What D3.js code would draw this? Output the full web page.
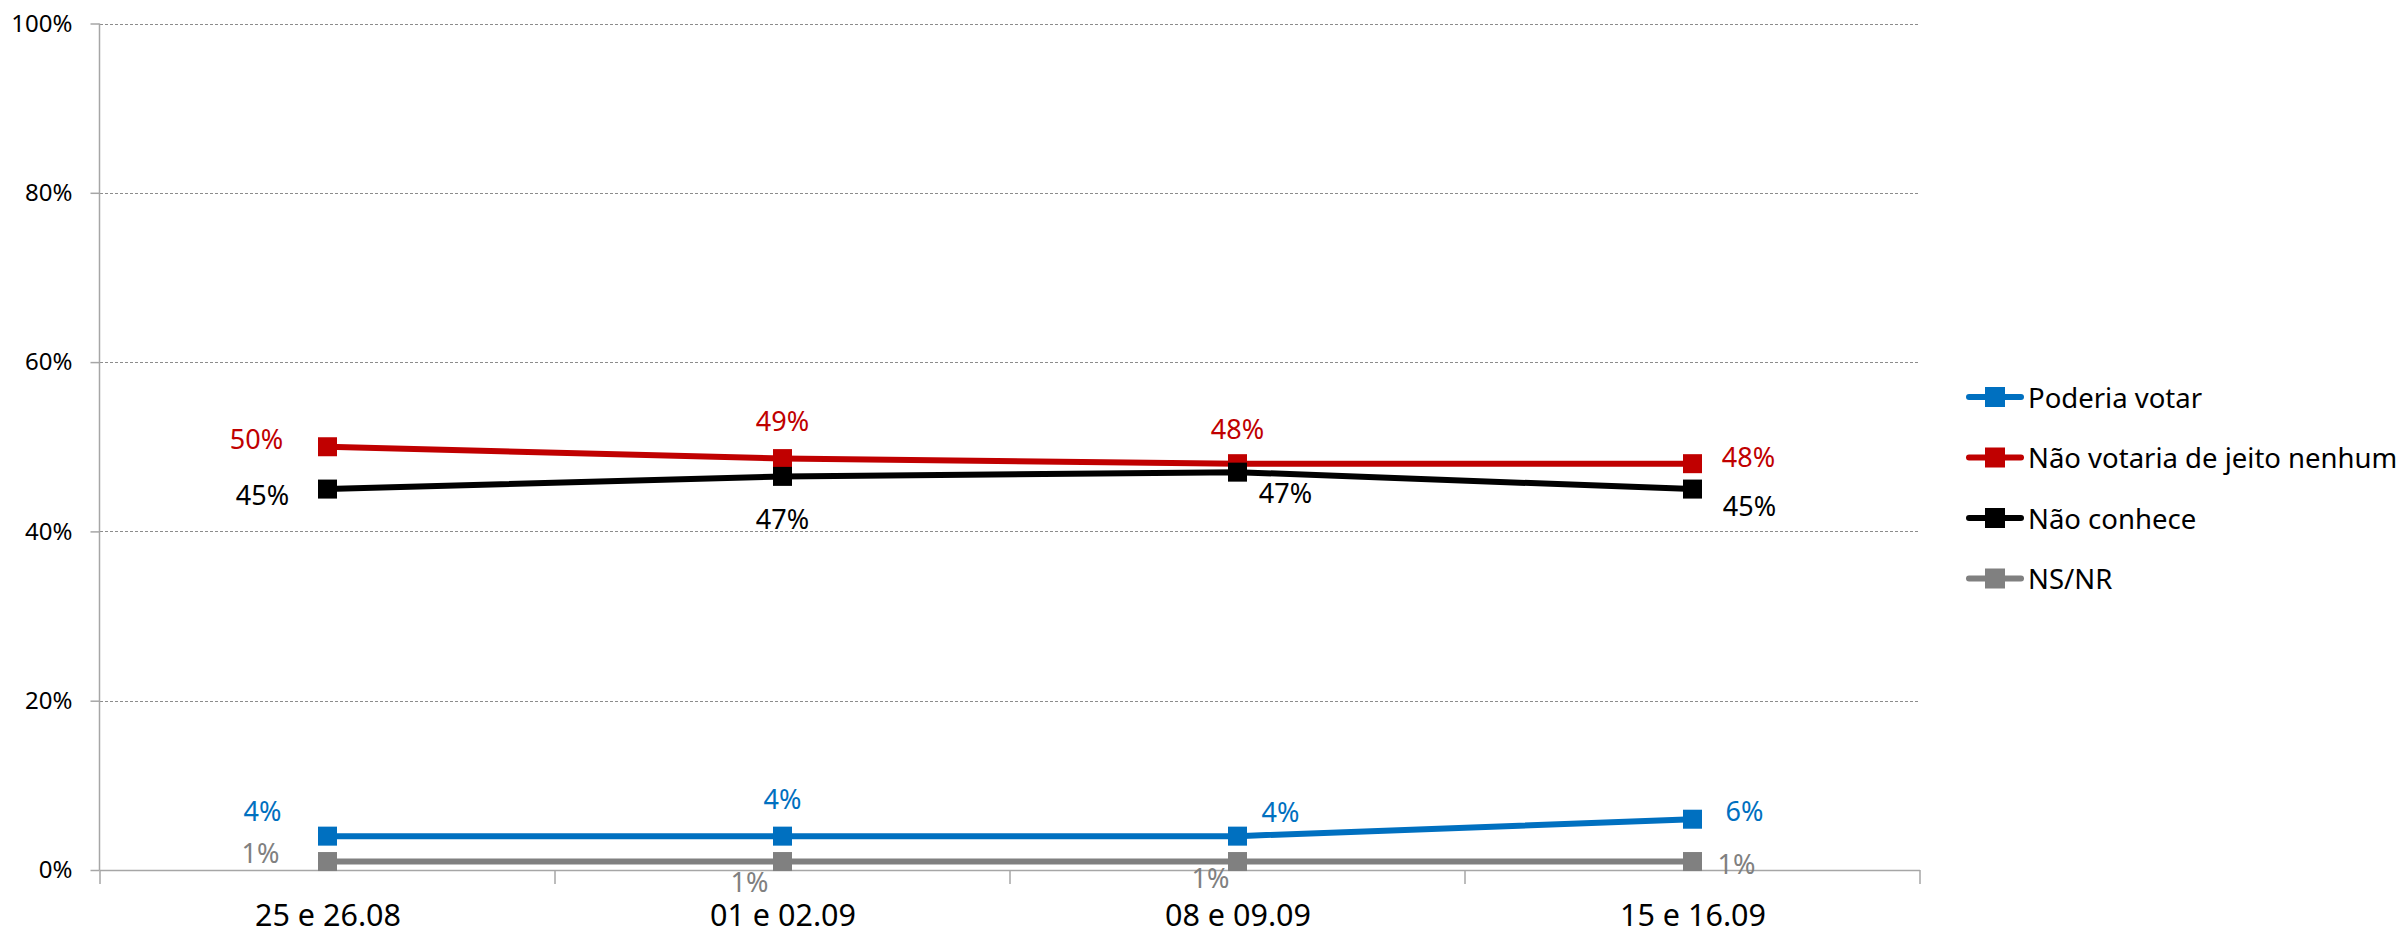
<!DOCTYPE html>
<html>
<head>
<meta charset="utf-8">
<script src="https://cdn.jsdelivr.net/npm/d3@7"></script>
<style>
  html, body { margin: 0; padding: 0; background: #fff; }
  svg { display: block; font-family: "Noto Sans", "Open Sans", sans-serif; }
</style>
</head>
<body>
<svg id="chart" width="2405" height="936"></svg>
<script>
// ---- data ----
const categories = ["25 e 26.08", "01 e 02.09", "08 e 09.09", "15 e 16.09"];
const seriesNames = ["Poderia votar", "Não votaria de jeito nenhum", "Não conhece", "NS/NR"];
const poderiaVotar = [4, 4, 4, 6];
const naoVotaria = [50, 48.6, 48, 48];
const naoConhece = [45, 46.5, 47, 45];
const nsnr = [1, 1, 1, 1];
const valueLabels = [
  ["4%", "4%", "4%", "6%"],
  ["50%", "49%", "48%", "48%"],
  ["45%", "47%", "47%", "45%"],
  ["1%", "1%", "1%", "1%"]
];
const yTicks = [0, 20, 40, 60, 80, 100];

// ---- layout / style (kept separate from data) ----
const colors = ["#0070C0", "#C00000", "#000000", "#808080"];
const labelOffsets = [
  [[-65, -26], [0, -38], [43, -25], [52, -9]],
  [[-71, -8], [0, -38], [0, -35], [56, -7]],
  [[-65, 5], [0, 42], [48, 20], [57, 16]],
  [[-67, -9], [-33, 20], [-27, 16], [44, 2]]
];
const plot = { left: 100, right: 1920, top: 23.5, bottom: 870 };

const seriesValues = [poderiaVotar, naoVotaria, naoConhece, nsnr];

const svg = d3.select("#chart");

const x = d3.scalePoint().domain(categories).range([plot.left, plot.right]).padding(0.5);
const xBand = d3.scaleBand().domain(categories).range([plot.left, plot.right]);
const y = d3.scaleLinear().domain([0, 100]).range([plot.bottom, plot.top]);

// gridlines
svg.append("g")
  .selectAll("line")
  .data(yTicks.filter(d => d > 0))
  .join("line")
  .attr("x1", plot.left).attr("x2", plot.right)
  .attr("y1", d => Math.round(y(d)) + 0.5).attr("y2", d => Math.round(y(d)) + 0.5)
  .attr("stroke", "#8c8c8c").attr("stroke-width", 1.2)
  .attr("stroke-dasharray", "3,2");

// y axis
const yAxis = svg.append("g")
  .attr("transform", `translate(${plot.left - 0.5},0)`)
  .call(d3.axisLeft(y).tickValues(yTicks).tickSize(9).tickPadding(18).tickFormat(d => d + "%"));
yAxis.select(".domain").attr("stroke", "#a6a6a6").attr("stroke-width", 1.5)
  .attr("d", `M0,${plot.top}V${plot.bottom}`);
yAxis.selectAll(".tick line").attr("stroke", "#a6a6a6").attr("stroke-width", 1.5);
yAxis.selectAll(".tick text").attr("font-size", 24).attr("fill", "#000")
  .attr("font-family", "'Noto Sans', sans-serif");

// x axis line & boundary ticks
const xAxisG = svg.append("g");
xAxisG.append("line")
  .attr("x1", plot.left).attr("x2", plot.right)
  .attr("y1", plot.bottom + 0.5).attr("y2", plot.bottom + 0.5)
  .attr("stroke", "#a6a6a6").attr("stroke-width", 1.5);
const boundaries = categories.map(c => xBand(c)).concat([xBand(categories[categories.length - 1]) + xBand.bandwidth()]);
xAxisG.selectAll("line.bt")
  .data(boundaries)
  .join("line")
  .attr("class", "bt")
  .attr("x1", d => d).attr("x2", d => d)
  .attr("y1", plot.bottom).attr("y2", plot.bottom + 14)
  .attr("stroke", "#a6a6a6").attr("stroke-width", 1.5);
const xLabels = svg.append("g")
  .attr("transform", `translate(0,${plot.bottom})`)
  .call(d3.axisBottom(x).tickSize(0).tickPadding(0));
xLabels.select(".domain").remove();
xLabels.selectAll(".tick text")
  .attr("font-size", 30.5).attr("fill", "#000")
  .attr("font-family", "'Noto Sans', sans-serif")
  .attr("dy", null).attr("y", 56);

// lines and markers
const line = d3.line().x((d, i) => x(categories[i])).y(d => y(d));
seriesValues.forEach((vals, s) => {
  const g = svg.append("g");
  g.append("path")
    .attr("d", line(vals))
    .attr("fill", "none")
    .attr("stroke", colors[s])
    .attr("stroke-width", 6)
    .attr("stroke-linejoin", "round");
  g.selectAll("rect")
    .data(vals)
    .join("rect")
    .attr("x", (d, i) => x(categories[i]) - 9.5)
    .attr("y", d => y(d) - 9.5)
    .attr("width", 19).attr("height", 19)
    .attr("fill", colors[s]);
});

// data labels
seriesValues.forEach((vals, s) => {
  svg.append("g")
    .selectAll("text")
    .data(vals)
    .join("text")
    .attr("x", (d, i) => x(categories[i]) + labelOffsets[s][i][0])
    .attr("y", (d, i) => y(d) + labelOffsets[s][i][1])
    .attr("text-anchor", "middle")
    .attr("dominant-baseline", "central")
    .attr("font-size", 27)
    .attr("fill", colors[s])
    .text((d, i) => valueLabels[s][i]);
});

// legend
const legend = svg.append("g");
seriesNames.forEach((name, s) => {
  const ly = 397 + s * 60.5;
  legend.append("line")
    .attr("x1", 1969).attr("x2", 2021)
    .attr("y1", ly).attr("y2", ly)
    .attr("stroke", colors[s]).attr("stroke-width", 6)
    .attr("stroke-linecap", "round");
  legend.append("rect")
    .attr("x", 1985).attr("y", ly - 10)
    .attr("width", 20).attr("height", 20)
    .attr("fill", colors[s]);
  legend.append("text")
    .attr("x", 2028).attr("y", ly)
    .attr("dominant-baseline", "central")
    .attr("font-size", 27.5)
    .attr("fill", "#000")
    .text(name);
});
</script>
</body>
</html>
